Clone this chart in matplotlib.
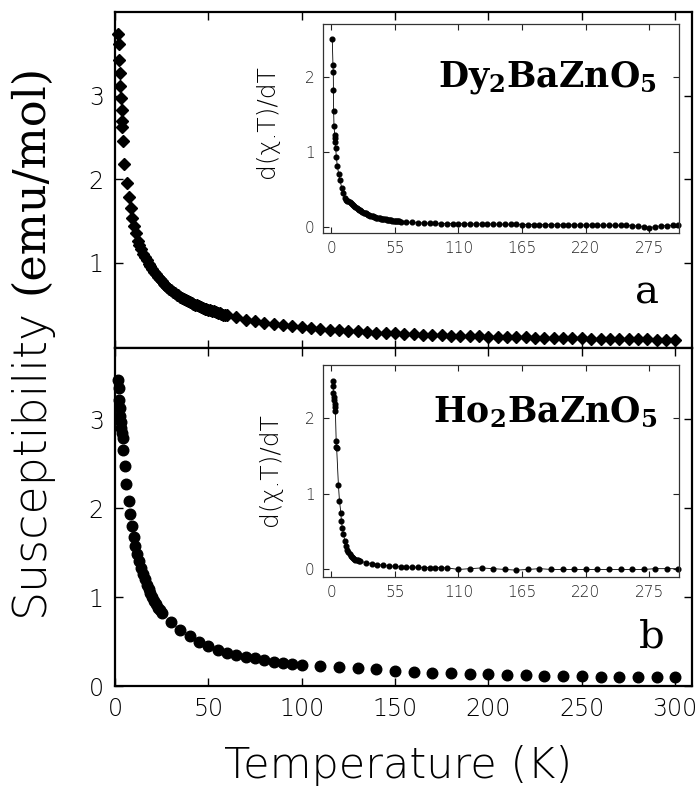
import matplotlib
matplotlib.use('Agg')
import matplotlib.pyplot as plt

plt.rcParams['mathtext.fontset'] = 'custom'
plt.rcParams['mathtext.rm'] = 'DejaVu Serif'
plt.rcParams['mathtext.bf'] = 'DejaVu Serif:bold'
plt.rcParams['mathtext.it'] = 'DejaVu Serif:italic'

SANS = ['DejaVu Sans']
SERIF = ['DejaVu Serif']

# ---------------- data: Dy2BaZnO5 susceptibility ----------------
T_dy = [1.8, 2.1, 2.3, 2.7, 2.9, 3.2, 3.6, 3.7, 3.9, 4.3, 5.0, 6.3, 7.7, 8.6, 9.3, 10.2, 11.2, 12.1,
        13, 14, 15, 16, 17, 18, 19, 20, 21, 22, 23, 24, 25, 26, 27, 28, 29, 30,
        31, 32, 33, 34, 35, 36, 37, 38, 39, 40, 41, 42, 43, 44, 45, 46, 47, 48, 49, 50,
        51, 52, 53, 54, 55, 56, 57, 58, 59, 60,
        65, 70, 75, 80, 85, 90, 95, 100, 105, 110, 115, 120, 125, 130, 135, 140, 145, 150,
        155, 160, 165, 170, 175, 180, 185, 190, 195, 200, 205, 210, 215, 220, 225, 230,
        235, 240, 245, 250, 255, 260, 265, 270, 275, 280, 285, 290, 295, 300]
chi_dy = [3.74, 3.62, 3.42, 3.27, 3.12, 2.97, 2.83, 2.70, 2.63, 2.46, 2.18, 1.96, 1.79, 1.65, 1.53, 1.44, 1.35, 1.26,
          1.21, 1.16, 1.11, 1.07, 1.03, 0.99, 0.96, 0.93,
          0.89, 0.86, 0.83, 0.80, 0.78, 0.75, 0.73, 0.71, 0.69, 0.67,
          0.65, 0.64, 0.62, 0.61, 0.59, 0.58, 0.57, 0.55, 0.54, 0.53,
          0.52, 0.51, 0.50, 0.49, 0.48, 0.47, 0.46, 0.45, 0.45, 0.44,
          0.43, 0.42, 0.42, 0.41, 0.40, 0.40, 0.39, 0.38, 0.38, 0.37,
          0.35, 0.32, 0.30, 0.28, 0.27, 0.26, 0.24, 0.23,
          0.22, 0.21, 0.20, 0.19, 0.18, 0.18, 0.17, 0.165, 0.16, 0.155,
          0.15, 0.145, 0.14, 0.137, 0.133, 0.129, 0.126, 0.123, 0.12, 0.117,
          0.114, 0.111, 0.109, 0.106, 0.104, 0.102, 0.10, 0.098, 0.096, 0.094,
          0.092, 0.09, 0.089, 0.087, 0.086, 0.084, 0.083, 0.081, 0.08, 0.078]

# ---------------- data: Ho2BaZnO5 susceptibility ----------------
T_ho = [1.8, 2.0, 2.3, 2.5, 2.7, 3.0, 3.4, 3.7, 4.1, 4.4, 5.2, 5.9, 7.5, 8.2, 9.1, 10.0, 10.9, 11.9, 12.9,
        14, 15, 16, 17, 18, 19, 20, 21, 22, 23, 24, 25,
        30, 35, 40, 45, 50, 55, 60, 65, 70, 75, 80, 85, 90, 95, 100,
        110, 120, 130, 140, 150, 160, 170, 180, 190, 200, 210, 220, 230, 240, 250, 260, 270, 280, 290, 300]
chi_ho = [3.44, 3.35, 3.21, 3.12, 3.04, 2.97, 2.90, 2.84, 2.79, 2.65, 2.47, 2.27, 2.08, 1.93, 1.80, 1.68, 1.57, 1.48, 1.40,
          1.33, 1.26, 1.20, 1.14, 1.09, 1.05, 1.00, 0.96, 0.92, 0.88, 0.85, 0.82,
          0.72, 0.63, 0.56, 0.50, 0.45, 0.41, 0.37, 0.35, 0.33, 0.31, 0.29, 0.27, 0.26, 0.25, 0.24,
          0.225, 0.21, 0.20, 0.19, 0.17, 0.16, 0.15, 0.145, 0.14, 0.13, 0.125, 0.12, 0.11, 0.11, 0.11,
          0.10, 0.10, 0.10, 0.10, 0.098]

# ---------------- inset data: d(chi.T)/dT ----------------
Ti_dy = [1.0, 1.6, 1.9, 2.0, 2.2, 2.5, 3.1, 3.3, 3.6, 4.0, 4.5, 5.4, 6.6, 7.7, 9.2, 10.3, 11.8,
         13, 14, 15, 16, 17, 18, 19, 20, 21, 22, 23, 24, 25, 26, 27, 28, 29, 30,
         31, 32, 33, 34, 35, 36, 37, 38, 39, 40, 41, 42, 43, 44, 45, 46, 47, 48, 49, 50,
         51, 52, 53, 54, 55, 56, 57, 58, 59, 60,
         65, 70, 75, 80, 85, 90, 95, 100, 105, 110, 115, 120, 125, 130, 135, 140, 145, 150,
         155, 160, 165, 170, 175, 180, 185, 190, 195, 200, 205, 210, 215, 220, 225, 230,
         235, 240, 245, 250, 255, 260, 265, 270, 275, 280, 285, 290, 295, 300]
dchi_dy = [2.50, 2.16, 2.06, 1.82, 1.54, 1.34, 1.23, 1.19, 1.13, 1.05, 0.93, 0.81, 0.70, 0.62, 0.52, 0.45, 0.38,
           0.36, 0.35, 0.34, 0.33, 0.32, 0.30, 0.29, 0.28,
           0.26, 0.25, 0.24, 0.23, 0.22, 0.21, 0.20, 0.19, 0.185, 0.18,
           0.17, 0.165, 0.16, 0.15, 0.145, 0.14, 0.135, 0.13, 0.125, 0.12,
           0.118, 0.115, 0.112, 0.11, 0.107, 0.104, 0.10, 0.097, 0.095, 0.093,
           0.09, 0.088, 0.086, 0.085, 0.083, 0.08, 0.078, 0.076, 0.074, 0.072,
           0.065, 0.06, 0.056, 0.052, 0.05, 0.048, 0.046, 0.045,
           0.044, 0.043, 0.042, 0.041, 0.04, 0.04, 0.039, 0.038, 0.037, 0.036,
           0.035, 0.034, 0.033, 0.033, 0.032, 0.031, 0.03, 0.03, 0.029, 0.028,
           0.028, 0.027, 0.026, 0.026, 0.025, 0.025, 0.024, 0.023, 0.023, 0.022,
           0.02, 0.018, 0.01, 0.0, -0.01, 0.005, 0.015, 0.018, 0.02, 0.02]

Ti_ho = [1.5, 1.8, 2.0, 2.3, 2.6, 3.0, 3.2, 3.7, 4.4, 4.6, 4.8, 6.3, 7.2, 8.4, 8.9, 9.7, 10.6, 11.8, 12.9,
         14, 15, 16, 17, 18, 19, 20, 21, 22, 23, 24, 25,
         30, 35, 40, 45, 50, 55, 60, 65, 70, 75, 80, 85, 90, 95, 100,
         110, 120, 130, 140, 150, 160, 170, 180, 190, 200, 210, 220, 230, 240, 250, 260, 270, 280, 290, 300]
dchi_ho = [2.49, 2.42, 2.33, 2.28, 2.24, 2.18, 2.15, 2.09, 1.69, 1.62, 1.60, 1.12, 0.91, 0.75, 0.64, 0.55, 0.47, 0.38, 0.31,
           0.26, 0.23, 0.20, 0.18, 0.165, 0.15, 0.14, 0.13, 0.125, 0.12, 0.115, 0.11,
           0.09, 0.075, 0.065, 0.055, 0.045, 0.04, 0.035, 0.03, 0.03, 0.028, 0.025, 0.025, 0.025, 0.022, 0.02,
           0.0, 0.01, 0.02, 0.01, 0.0, -0.01, 0.0, 0.01, 0.0, 0.0, 0.0, 0.0, 0.0, 0.0, 0.0,
           0.0, 0.0, 0.01, 0.01, 0.01]

main_xticks = [0, 50, 100, 150, 200, 250, 300]
main_yticks_a = [1, 2, 3]
main_yticks_b = [0, 1, 2, 3]
inset_xticks = [0, 55, 110, 165, 220, 275]
inset_yticks = [0, 1, 2]

W, H = 697, 789
fig = plt.figure(figsize=(W / 100, H / 100), dpi=100)


def box(l, t, r, b):
    return [l / W, 1 - b / H, (r - l) / W, (b - t) / H]


axa = fig.add_axes(box(115, 12, 692, 348))
axb = fig.add_axes(box(115, 348, 692, 686))
insa = fig.add_axes(box(323, 24, 679, 233))
insb = fig.add_axes(box(323, 365, 679, 577))

axa.plot(T_dy, chi_dy, linestyle='none', marker='D', markersize=5.8, color='black', clip_on=False)
axb.plot(T_ho, chi_ho, linestyle='none', marker='o', markersize=7.6, color='black', clip_on=False)

for ax in (axa, axb):
    ax.set_xlim(0, 309)
    ax.set_xticks(main_xticks)
    ax.tick_params(direction='in', length=6, width=1.0, top=True, right=True,
                   labelsize=17, pad=8)
    for s in ax.spines.values():
        s.set_linewidth(1.6)

axa.set_ylim(-0.02, 4.0)
axa.set_yticks(main_yticks_a)
axa.tick_params(labelbottom=False)
axb.set_ylim(0, 3.8)
axb.set_yticks(main_yticks_b)
for ax in (axa, axb):
    for lab in ax.get_xticklabels() + ax.get_yticklabels():
        lab.set_family(SANS)
        lab.set_fontweight('light')
        lab.set_color('black')

insa.plot(Ti_dy, dchi_dy, '-', color='black', linewidth=0.6, marker='o', markersize=3.4, clip_on=False)
insb.plot(Ti_ho, dchi_ho, '-', color='black', linewidth=0.6, marker='o', markersize=3.4, clip_on=False)
insa.set_ylim(-0.08, 2.7)
insb.set_ylim(-0.1, 2.7)
for ax in (insa, insb):
    ax.set_xlim(-7, 300.5)
    ax.set_xticks(inset_xticks)
    ax.set_yticks(inset_yticks)
    ax.tick_params(direction='in', length=4, width=0.8, top=True, right=True,
                   labelsize=11, pad=6, colors='#222222')
    for s in ax.spines.values():
        s.set_linewidth(0.9)
        s.set_color('#333333')
    for lab in ax.get_xticklabels() + ax.get_yticklabels():
        lab.set_family(SANS)
        lab.set_fontweight('light')

# inset y labels
fig.text(267 / W, 1 - 122 / H, 'd(χ.T)/dT', fontsize=18, family=SANS, fontweight='light',
         rotation=90, ha='center', va='center')
fig.text(270 / W, 1 - 470 / H, 'd(χ.T)/dT', fontsize=18, family=SANS, fontweight='light',
         rotation=90, ha='center', va='center')

# compound labels
fig.text(657 / W, 1 - 87 / H, r'$\mathbf{Dy_2BaZnO_5}$', fontsize=25, ha='right', va='baseline')
fig.text(657 / W, 1 - 422 / H, r'$\mathbf{Ho_2BaZnO_5}$', fontsize=25, ha='right', va='baseline')
fig.text(659 / W, 1 - 303 / H, 'a', fontsize=29, family=SERIF, ha='right', va='baseline')
fig.text(665 / W, 1 - 648 / H, 'b', fontsize=29, family=SERIF, ha='right', va='baseline')

# axis titles
fig.text(398 / W, 1 - 765 / H, 'Temperature (K)', fontsize=31, family=SANS, fontweight='light',
         ha='center', va='center')
fig.text(30 / W, 1 - 462 / H, 'Susceptibility', fontsize=33, family=SANS, fontweight='light',
         rotation=90, ha='center', va='center')
fig.text(30 / W, 1 - 179 / H, '(emu/mol)', fontsize=32, family=SERIF, rotation=90,
         ha='center', va='center')

fig.savefig('out.png', dpi=100)
